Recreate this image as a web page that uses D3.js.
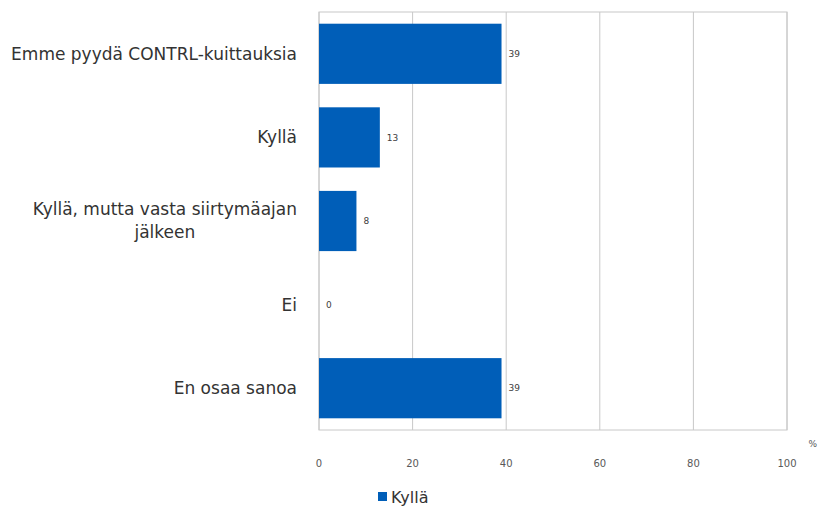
<!DOCTYPE html>
<html>
<head>
<meta charset="utf-8">
<script src="https://cdn.jsdelivr.net/npm/d3@7"></script>
<style>
  body { margin: 0; background: #fff; }
  svg { display: block; }
</style>
</head>
<body>
<svg id="chart"></svg>
<script>
// chart data
const categories = [
  ["Emme pyydä CONTRL-kuittauksia"],
  ["Kyllä"],
  ["Kyllä, mutta vasta siirtymäajan", "jälkeen"],
  ["Ei"],
  ["En osaa sanoa"]
];
const values = [39, 13, 8, 0, 39];
const xTicks = [0, 20, 40, 60, 80, 100];
const seriesName = "Kyllä";

const width = 821;
const height = 513;
const margin = {top: 12, left: 319, right: 34, bottom: 83};
const barColor = "#005EB8";
const font = "'DejaVu Sans', Verdana, sans-serif";

const svg = d3.select("#chart").attr("width", width).attr("height", height);

const x = d3.scaleLinear().domain([0, 100]).range([margin.left, width - margin.right]);
const y = d3.scaleBand()
  .domain(d3.range(values.length))
  .range([margin.top, height - margin.bottom])
  .paddingInner(0.28)
  .paddingOuter(0.14);

// gridlines
svg.append("g").selectAll("line").data(xTicks)
  .enter().append("line")
    .attr("x1", d => x(d)).attr("x2", d => x(d))
    .attr("y1", margin.top).attr("y2", height - margin.bottom)
    .attr("stroke", "#c8c8c8").attr("stroke-width", 1);

// plot border
svg.append("rect")
  .attr("x", x(0)).attr("y", margin.top)
  .attr("width", x(100) - x(0)).attr("height", height - margin.bottom - margin.top)
  .attr("fill", "none").attr("stroke", "#c8c8c8");

// bars
svg.append("g").selectAll("rect").data(values)
  .enter().append("rect")
    .attr("x", x(0))
    .attr("y", (d, i) => y(i))
    .attr("width", d => x(d) - x(0))
    .attr("height", y.bandwidth())
    .attr("fill", barColor);

// value labels
svg.append("g").selectAll("text").data(values)
  .enter().append("text")
    .attr("x", d => x(d) + 7)
    .attr("y", (d, i) => y(i) + y.bandwidth() / 2)
    .attr("dy", "0.35em")
    .attr("font-family", font)
    .attr("font-size", 9)
    .attr("fill", "#404040")
    .text(d => d);

// x axis tick labels
svg.append("g").selectAll("text").data(xTicks)
  .enter().append("text")
    .attr("x", d => x(d))
    .attr("y", height - margin.bottom + 37)
    .attr("text-anchor", "middle")
    .attr("font-family", font)
    .attr("font-size", 10)
    .attr("fill", "#595959")
    .text(d => d);

svg.append("text")
  .attr("x", width - 4)
  .attr("y", height - margin.bottom + 17)
  .attr("text-anchor", "end")
  .attr("font-family", font)
  .attr("font-size", 9)
  .attr("fill", "#595959")
  .text("%");

// category labels (multi-line labels are centred as a block, right aligned)
const labelRight = margin.left - 22;
const catFont = 17;
categories.forEach((lines, i) => {
  const g = svg.append("g");
  const cy = y(i) + y.bandwidth() / 2;
  const texts = lines.map((line, j) => g.append("text")
    .attr("y", cy + (j - (lines.length - 1) / 2) * 23)
    .attr("dy", "0.35em")
    .attr("font-family", font)
    .attr("font-size", catFont)
    .attr("fill", "#333")
    .text(line));
  const maxW = d3.max(texts, t => t.node().getComputedTextLength());
  texts.forEach(t => t.attr("x", labelRight - maxW / 2).attr("text-anchor", "middle"));
});

// legend
const legend = svg.append("g").attr("transform", "translate(378, 497)");
legend.append("rect")
  .attr("x", 0).attr("y", -5).attr("width", 9).attr("height", 9)
  .attr("fill", barColor);
legend.append("text")
  .attr("x", 13).attr("y", 0).attr("dy", "0.35em")
  .attr("font-family", font)
  .attr("font-size", 16)
  .attr("fill", "#333")
  .text(seriesName);
</script>
</body>
</html>
